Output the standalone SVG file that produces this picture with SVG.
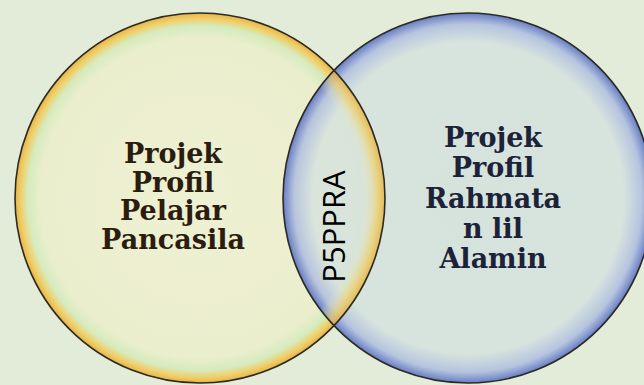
<svg xmlns="http://www.w3.org/2000/svg" width="644" height="385" viewBox="0 0 644 385">
  <defs>
    <radialGradient id="gLeft" cx="0.5" cy="0.5" r="0.5">
      <stop offset="0" stop-color="#eef0d3"/>
      <stop offset="0.86" stop-color="#ebeecd"/>
      <stop offset="0.93" stop-color="#d6ebbf"/>
      <stop offset="0.97" stop-color="#f0cf68"/>
      <stop offset="1" stop-color="#e6b448"/>
    </radialGradient>
    <radialGradient id="gLeftRim" cx="0.5" cy="0.5" r="0.5">
      <stop offset="0" stop-color="#ebeecd" stop-opacity="0"/>
      <stop offset="0.88" stop-color="#ebeecd" stop-opacity="0"/>
      <stop offset="0.96" stop-color="#f0cf68" stop-opacity="0.7"/>
      <stop offset="1" stop-color="#e6b448" stop-opacity="0.85"/>
    </radialGradient>
    <radialGradient id="gRight" cx="0.5" cy="0.5" r="0.5">
      <stop offset="0" stop-color="#d3e0dc" stop-opacity="0.82"/>
      <stop offset="0.84" stop-color="#d5e2de" stop-opacity="0.82"/>
      <stop offset="0.94" stop-color="#aebde0" stop-opacity="0.85"/>
      <stop offset="1" stop-color="#5f76c2" stop-opacity="0.95"/>
    </radialGradient>
    <clipPath id="clipRight">
      <ellipse cx="468" cy="198" rx="185" ry="185"/>
    </clipPath>
    <style>
      .outline { fill: none; stroke: #2c2a22; stroke-width: 1.6; }
      .lbl { font-family: "DejaVu Serif", "Liberation Serif", serif; font-weight: bold; font-size: 27px; text-anchor: middle; }
      .lblL { fill: #2b1d0e; }
      .lblR { fill: #1c2238; }
      .mid { font-family: "Open Sans", "Noto Sans", sans-serif; font-size: 31px; fill: #000; text-anchor: middle; }
    </style>
  </defs>
  <rect x="0" y="0" width="644" height="385" fill="#e2ecd9"/>
  <g id="left-circle">
    <ellipse cx="200" cy="198" rx="185" ry="185" fill="url(#gLeft)"/>
  </g>
  <g id="right-circle">
    <ellipse cx="468" cy="198" rx="185" ry="185" fill="url(#gRight)"/>
    <ellipse cx="200" cy="198" rx="185" ry="185" fill="url(#gLeftRim)" clip-path="url(#clipRight)"/>
  </g>
  <g id="outlines">
    <ellipse class="outline" cx="200" cy="198" rx="185" ry="185"/>
    <ellipse class="outline" cx="468" cy="198" rx="185" ry="185" stroke="#1f2a48"/>
  </g>
  <g id="label-left">
    <text class="lbl lblL" x="173" y="163">Projek</text>
    <text class="lbl lblL" x="173" y="191.5">Profil</text>
    <text class="lbl lblL" x="173" y="220">Pelajar</text>
    <text class="lbl lblL" x="173" y="248.5">Pancasila</text>
  </g>
  <g id="label-right">
    <text class="lbl lblR" x="493" y="147">Projek</text>
    <text class="lbl lblR" x="493" y="177">Profil</text>
    <text class="lbl lblR" x="493" y="207.5">Rahmata</text>
    <text class="lbl lblR" x="493" y="238">n lil</text>
    <text class="lbl lblR" x="493" y="268">Alamin</text>
  </g>
  <g id="label-mid">
    <text class="mid" transform="translate(345,226.5) rotate(-90)" x="0" y="0">P5PPRA</text>
  </g>
</svg>
